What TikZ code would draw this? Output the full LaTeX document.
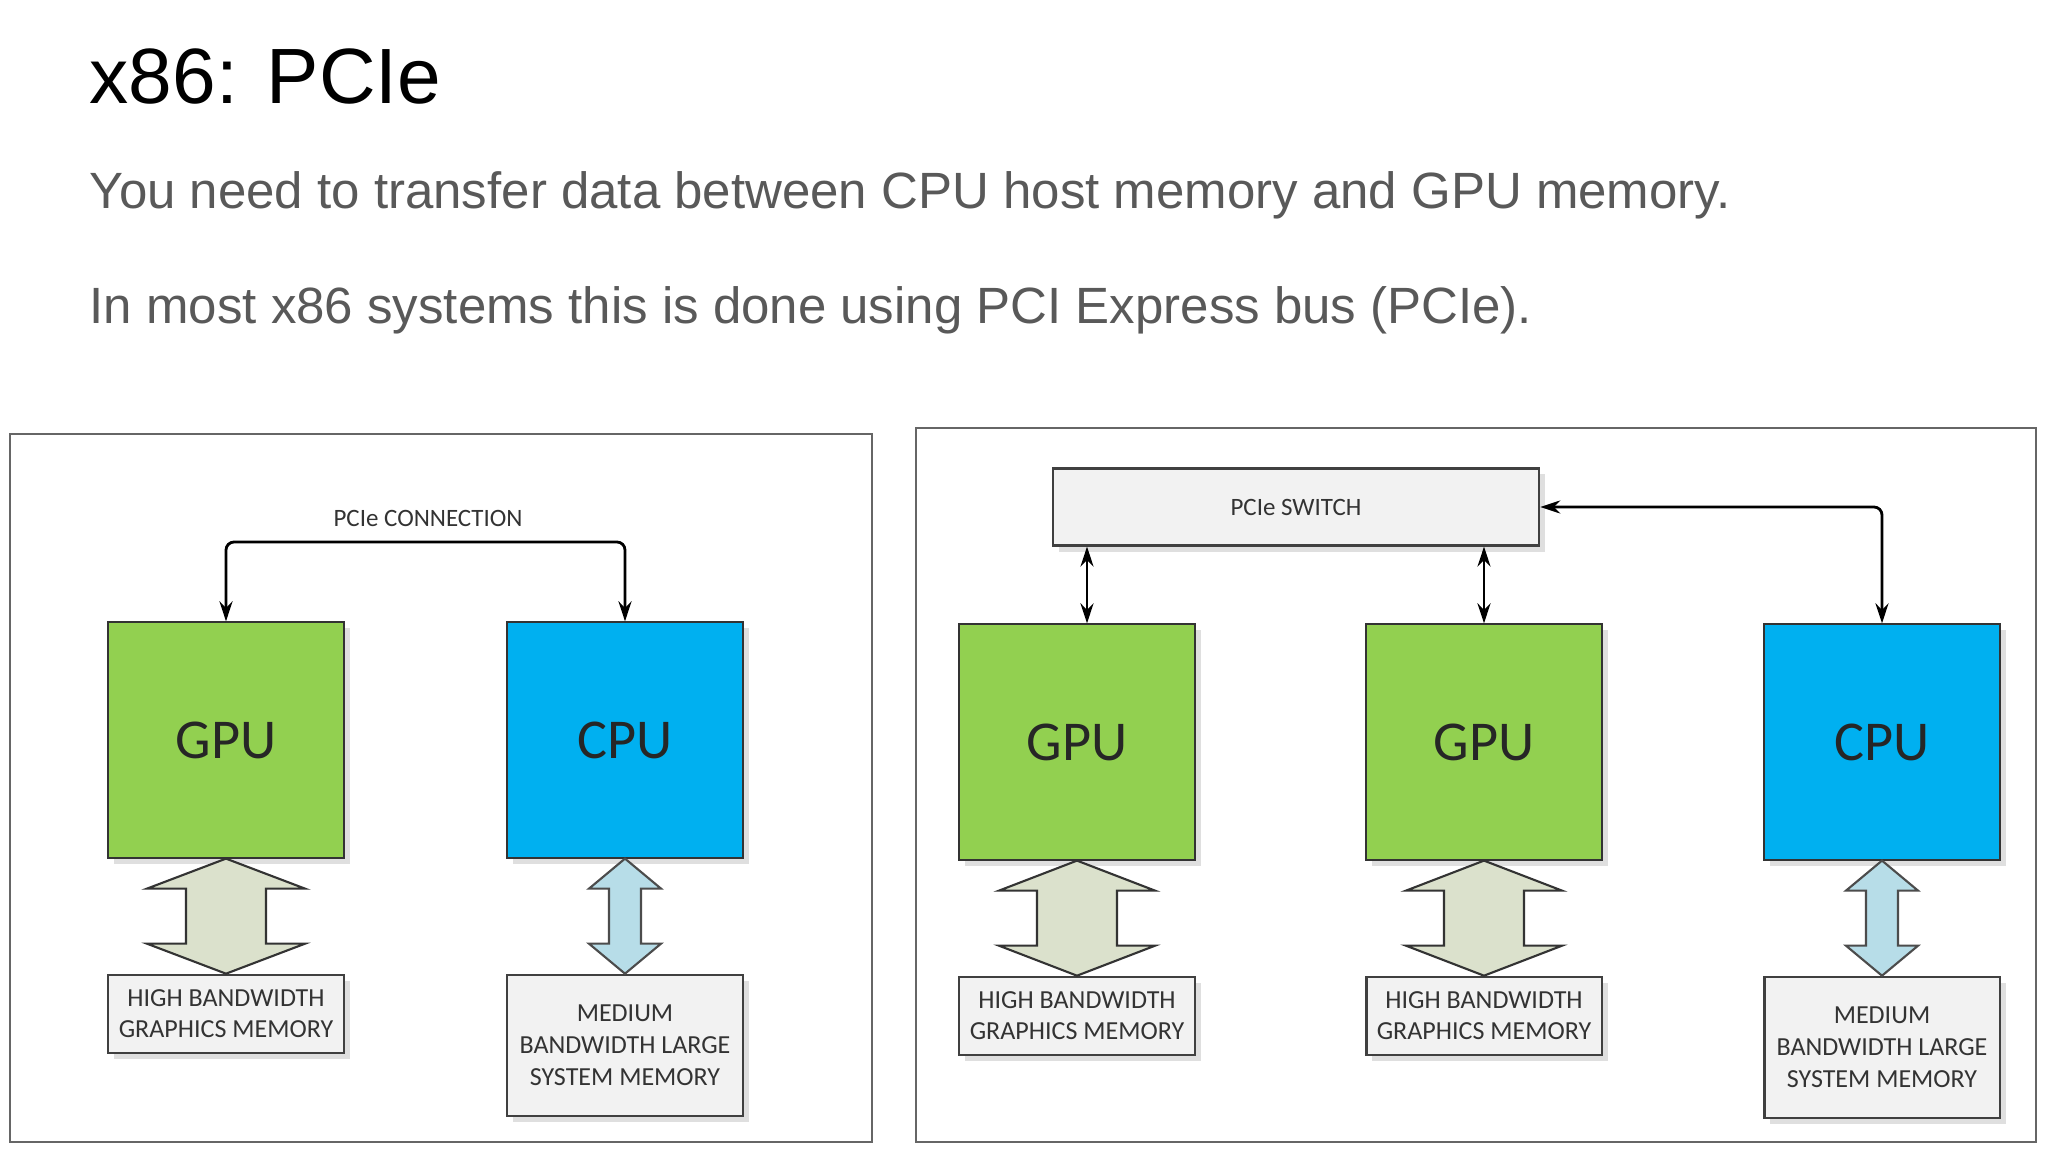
\documentclass[tikz,border=0pt]{standalone}
\usepackage{fontspec}
\setmainfont{Liberation Sans}
\newfontfamily\calibri{Carlito}
\usepackage{tikz}
\usetikzlibrary{positioning,calc,shadows,arrows.meta}
\definecolor{gpugreen}{RGB}{146,208,80}
\definecolor{cpublue}{RGB}{0,176,240}
\definecolor{boxgray}{RGB}{242,242,242}
\definecolor{gpuarrow}{RGB}{219,225,204}
\definecolor{cpuarrow}{RGB}{183,221,232}
\definecolor{subgray}{RGB}{89,89,89}

% wide two-headed arrow from the bottom of #1 to the top of #2
\newcommand{\fatarrow}[5]{%
  \draw[#5] (#1.south) -- ($(#1.south)+(#4,30)$) -- ($(#1.south)+(#3,30)$)
    -- ($(#2.north)+(#3,-30)$) -- ($(#2.north)+(#4,-30)$) -- (#2.north)
    -- ($(#2.north)+(-#4,-30)$) -- ($(#2.north)+(-#3,-30)$)
    -- ($(#1.south)+(-#3,30)$) -- ($(#1.south)+(-#4,30)$) -- cycle;}

\begin{document}
\begin{tikzpicture}[x=0.01cm, y=-0.01cm, node distance=1.15cm,
    shade/.style={drop shadow={shadow xshift=0.06cm, shadow yshift=-0.06cm, opacity=0.25, fill=black!50}},
    chip/.style={draw=black!80, line width=0.6pt, minimum width=2.36cm, minimum height=2.35cm, inner sep=0pt, font=\calibri\fontsize{16}{19}\selectfont, text=black!85, shade},
    gpu/.style={chip, fill=gpugreen},
    cpu/.style={chip, fill=cpublue},
    mem/.style={draw=black!75, line width=0.6pt, fill=boxgray, minimum width=2.35cm, inner sep=0pt, align=center, font=\calibri\fontsize{7.4}{9}\selectfont, text=black!80, shade},
    lbl/.style={font=\calibri\fontsize{7.1}{9}\selectfont, text=black!80},
    link/.style={{Stealth[length=0.2cm,width=0.13cm]}-{Stealth[length=0.2cm,width=0.13cm]}, thick, rounded corners=0.08cm},
    wide/.style={draw=black!80, line width=0.6pt, fill=gpuarrow},
    slim/.style={draw=black!70, line width=0.6pt, fill=cpuarrow},
    panel/.style={draw=black!60, line width=0.7pt}]
  \useasboundingbox[fill=white] (0,0) rectangle (2048,1152);

  % heading
  \node[anchor=base west, inner sep=0pt, font=\fontsize{22.3}{27}\selectfont] (title) at (89,104) {x86: PCIe};
  \node[anchor=base west, inner sep=0pt, text=subgray, font=\fontsize{14.5}{17}\selectfont] (line1) at (89,209) {You need to transfer data between CPU host memory and GPU memory.};
  \node[anchor=base west, inner sep=0pt, text=subgray, font=\fontsize{14.5}{17}\selectfont] (line2) at (89,324) {In most x86 systems this is done using PCI Express bus (PCIe).};

  % left panel: direct connection
  \draw[panel] (10,434) rectangle (872,1142);
  \node[gpu] (gpu1) at (226,740) {GPU};
  \node[cpu] (cpu1) at (625,740) {CPU};
  \node[mem, minimum height=0.78cm, below=of gpu1] (gmem1) {HIGH BANDWIDTH\\GRAPHICS MEMORY};
  \node[mem, minimum height=1.41cm, below=of cpu1] (smem1) {MEDIUM\\BANDWIDTH LARGE\\SYSTEM MEMORY};
  \node[lbl] (conn) at (428,518) {PCIe CONNECTION};
  \draw[link] (gpu1.north) |- (conn.south |- 0,542) -| (cpu1.north);
  \fatarrow{gpu1}{gmem1}{40}{79}{wide}
  \fatarrow{cpu1}{smem1}{16}{36}{slim}

  % right panel: through a switch
  \draw[panel] (916,428) rectangle (2036,1142);
  \node[mem, minimum width=4.86cm, minimum height=0.77cm, font=\calibri\fontsize{7.1}{9}\selectfont] (sw) at (1296,507) {PCIe SWITCH};
  \node[gpu] (gpuA) at (1077,742) {GPU};
  \node[gpu] (gpuB) at (1484,742) {GPU};
  \node[cpu] (cpu2) at (1882,742) {CPU};
  \node[mem, minimum height=0.78cm, below=of gpuA] (gmemA) {HIGH BANDWIDTH\\GRAPHICS MEMORY};
  \node[mem, minimum height=0.78cm, below=of gpuB] (gmemB) {HIGH BANDWIDTH\\GRAPHICS MEMORY};
  \node[mem, minimum height=1.41cm, below=of cpu2] (smem2) {MEDIUM\\BANDWIDTH LARGE\\SYSTEM MEMORY};
  \draw[link] ([xshift=0.1cm]gpuA.north |- sw.south) -- ([xshift=0.1cm]gpuA.north);
  \draw[link] (gpuB.north |- sw.south) -- (gpuB.north);
  \draw[link] (sw.east) -| (cpu2.north);
  \fatarrow{gpuA}{gmemA}{40}{78}{wide}
  \fatarrow{gpuB}{gmemB}{40}{78}{wide}
  \fatarrow{cpu2}{smem2}{16}{36}{slim}
\end{tikzpicture}
\end{document}
